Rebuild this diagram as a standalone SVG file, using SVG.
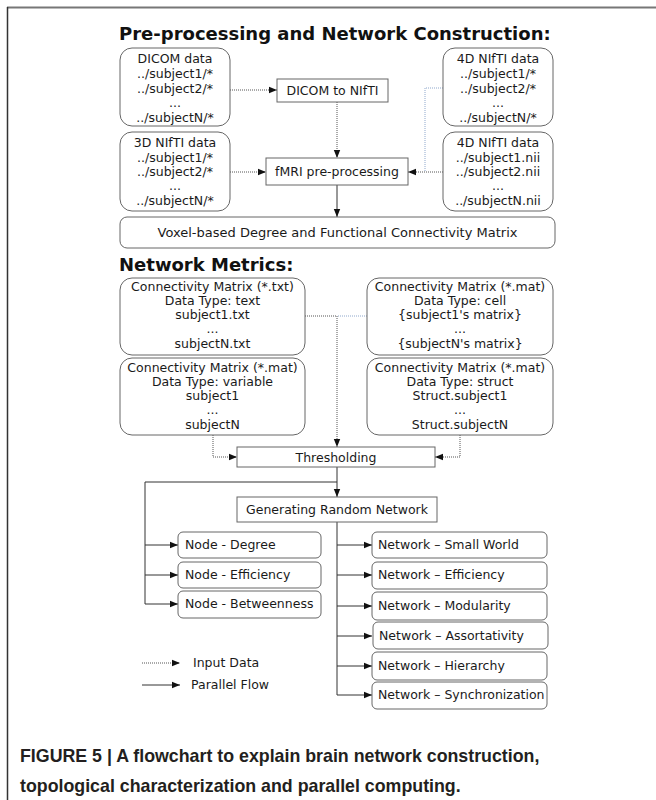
<svg xmlns="http://www.w3.org/2000/svg" width="656" height="800" viewBox="0 0 656 800">
<defs>
<marker id="ah" viewBox="0 0 10 10" refX="10" refY="5" markerWidth="8" markerHeight="8" markerUnits="userSpaceOnUse" orient="auto"><path d="M0,1 L10,5 L0,9 z" fill="#111"/></marker>
<style>
.t{font-family:"DejaVu Sans",sans-serif;font-size:12.5px;fill:#1a1a1a;text-anchor:middle}
.l{font-family:"DejaVu Sans",sans-serif;font-size:12.5px;fill:#1a1a1a}
.h{font-family:"DejaVu Sans",sans-serif;font-weight:bold;font-size:18px;fill:#111}
.cap{font-family:"Liberation Sans",Arial,sans-serif;font-weight:bold;font-size:17.8px;fill:#231f20}
.rb{fill:#fff;stroke:#666;stroke-width:1}
.dot{fill:none;stroke:#555;stroke-width:1;stroke-dasharray:1 1}
.blue{fill:none;stroke:#8fa8cc;stroke-width:1;stroke-dasharray:1 1}
.sol{fill:none;stroke:#333;stroke-width:1}
</style>
</defs>
<rect width="656" height="800" fill="#fff"/>
<line x1="7" y1="7.5" x2="656" y2="7.5" stroke="#777" stroke-width="2"/>
<line x1="7.5" y1="7" x2="7.5" y2="800" stroke="#333" stroke-width="1.5"/>

<text class="h" x="119" y="40">Pre-processing and Network Construction:</text>
<text class="h" x="119" y="271">Network Metrics:</text>

<g id="connectors">
<path class="dot" d="M230,90 H277" marker-end="url(#ah)"/>
<path class="dot" d="M337,102 V158" marker-end="url(#ah)"/>
<path class="dot" d="M230,172 H266" marker-end="url(#ah)"/>
<path class="blue" d="M443,88 H425 V172"/>
<path class="dot" d="M443,172 H408" marker-end="url(#ah)"/>
<path class="sol" d="M337,185 V217" marker-end="url(#ah)"/>
<path class="dot" d="M305,316 H337"/>
<path class="blue" d="M367,316 H337"/>
<path class="dot" d="M337,316 V447" marker-end="url(#ah)"/>
<path class="dot" d="M213,435 V457 H237" marker-end="url(#ah)"/>
<path class="dot" d="M460,435 V457 H435" marker-end="url(#ah)"/>
<path class="sol" d="M337,467 V497" marker-end="url(#ah)"/>
<path class="sol" d="M337,482 H145 V604 H178" marker-end="url(#ah)"/>
<path class="sol" d="M145,545 H178" marker-end="url(#ah)"/>
<path class="sol" d="M145,575 H178" marker-end="url(#ah)"/>
<path class="sol" d="M337,522 V695 H372" marker-end="url(#ah)"/>
<path class="sol" d="M337,545 H372" marker-end="url(#ah)"/>
<path class="sol" d="M337,575 H372" marker-end="url(#ah)"/>
<path class="sol" d="M337,606 H372" marker-end="url(#ah)"/>
<path class="sol" d="M337,636 H372" marker-end="url(#ah)"/>
<path class="sol" d="M337,666 H372" marker-end="url(#ah)"/>
<path class="dot" d="M142,663 H180" marker-end="url(#ah)"/>
<path class="sol" d="M142,685 H180" marker-end="url(#ah)"/>
</g>

<g id="dicom">
<rect class="rb" x="120" y="48" width="110" height="78" rx="12"/>
<text class="t" x="175" y="63">DICOM data</text>
<text class="t" x="175" y="78">../subject1/*</text>
<text class="t" x="175" y="93">../subject2/*</text>
<text class="t" x="175" y="107">...</text>
<text class="t" x="175" y="122">../subjectN/*</text>
</g>
<g id="nifti4d">
<rect class="rb" x="443" y="48" width="110" height="78" rx="12"/>
<text class="t" x="498" y="63">4D NIfTI data</text>
<text class="t" x="498" y="78">../subject1/*</text>
<text class="t" x="498" y="93">../subject2/*</text>
<text class="t" x="498" y="107">...</text>
<text class="t" x="498" y="122">../subjectN/*</text>
</g>
<g id="dicom2nifti">
<rect class="rb" x="277" y="79" width="111" height="23"/>
<text class="t" x="332.5" y="95">DICOM to NIfTI</text>
</g>
<g id="nifti3d">
<rect class="rb" x="120" y="132" width="110" height="79" rx="12"/>
<text class="t" x="175" y="147">3D NIfTI data</text>
<text class="t" x="175" y="162">../subject1/*</text>
<text class="t" x="175" y="176">../subject2/*</text>
<text class="t" x="175" y="190">...</text>
<text class="t" x="175" y="205">../subjectN/*</text>
</g>
<g id="nifti4dnii">
<rect class="rb" x="443" y="132" width="110" height="79" rx="12"/>
<text class="t" x="498" y="147">4D NIfTI data</text>
<text class="t" x="498" y="162">../subject1.nii</text>
<text class="t" x="498" y="176">../subject2.nii</text>
<text class="t" x="498" y="190">...</text>
<text class="t" x="498" y="205">../subjectN.nii</text>
</g>
<g id="fmri">
<rect class="rb" x="266" y="158" width="142" height="27"/>
<text class="t" x="337" y="176">fMRI pre-processing</text>
</g>
<g id="voxel">
<rect class="rb" x="120" y="217" width="435" height="31" rx="7"/>
<text class="t" x="337.5" y="237" style="font-size:13px">Voxel-based Degree and Functional Connectivity Matrix</text>
</g>

<g id="cm-txt">
<rect class="rb" x="120" y="278" width="185" height="77" rx="12"/>
<text class="t" x="212.5" y="291">Connectivity Matrix (*.txt)</text>
<text class="t" x="212.5" y="305">Data Type: text</text>
<text class="t" x="212.5" y="319">subject1.txt</text>
<text class="t" x="212.5" y="333">...</text>
<text class="t" x="212.5" y="348">subjectN.txt</text>
</g>
<g id="cm-cell">
<rect class="rb" x="367" y="278" width="186" height="77" rx="12"/>
<text class="t" x="460" y="291">Connectivity Matrix (*.mat)</text>
<text class="t" x="460" y="305">Data Type: cell</text>
<text class="t" x="460" y="319">{subject1's matrix}</text>
<text class="t" x="460" y="333">...</text>
<text class="t" x="460" y="348">{subjectN's matrix}</text>
</g>
<g id="cm-var">
<rect class="rb" x="120" y="358" width="185" height="77" rx="12"/>
<text class="t" x="212.5" y="372">Connectivity Matrix (*.mat)</text>
<text class="t" x="212.5" y="386">Data Type: variable</text>
<text class="t" x="212.5" y="400">subject1</text>
<text class="t" x="212.5" y="414">...</text>
<text class="t" x="212.5" y="429">subjectN</text>
</g>
<g id="cm-struct">
<rect class="rb" x="367" y="358" width="186" height="77" rx="12"/>
<text class="t" x="460" y="372">Connectivity Matrix (*.mat)</text>
<text class="t" x="460" y="386">Data Type: struct</text>
<text class="t" x="460" y="400">Struct.subject1</text>
<text class="t" x="460" y="414">...</text>
<text class="t" x="460" y="429">Struct.subjectN</text>
</g>
<g id="threshold">
<rect class="rb" x="237" y="447" width="198" height="20"/>
<text class="t" x="336" y="461.5">Thresholding</text>
</g>
<g id="random">
<rect class="rb" x="237" y="497" width="200" height="25"/>
<text class="t" x="337" y="514">Generating Random Network</text>
</g>

<g id="node-degree"><rect class="rb" x="178" y="532" width="143" height="26" rx="5"/><text class="l" x="185" y="549">Node - Degree</text></g>
<g id="node-eff"><rect class="rb" x="178" y="562" width="143" height="26" rx="5"/><text class="l" x="185" y="579">Node - Efficiency</text></g>
<g id="node-betw"><rect class="rb" x="178" y="591" width="143" height="27" rx="5"/><text class="l" x="185" y="608">Node - Betweenness</text></g>

<g id="net-sw"><rect class="rb" x="372" y="532" width="175" height="26" rx="5"/><text class="l" x="378" y="549">Network – Small World</text></g>
<g id="net-eff"><rect class="rb" x="372" y="562" width="175" height="27" rx="5"/><text class="l" x="378" y="579">Network – Efficiency</text></g>
<g id="net-mod"><rect class="rb" x="372" y="592" width="175" height="28" rx="5"/><text class="l" x="378" y="610">Network – Modularity</text></g>
<g id="net-ass"><rect class="rb" x="373" y="622" width="175" height="27" rx="5"/><text class="l" x="379" y="640">Network – Assortativity</text></g>
<g id="net-hier"><rect class="rb" x="372" y="652" width="175" height="28" rx="5"/><text class="l" x="378" y="670">Network – Hierarchy</text></g>
<g id="net-sync"><rect class="rb" x="372" y="682" width="175" height="27" rx="5"/><text class="l" x="378" y="699">Network – Synchronization</text></g>

<g id="legend">
<text class="l" x="193" y="667">Input Data</text>
<text class="l" x="191" y="689">Parallel Flow</text>
</g>

<text class="cap" x="20" y="762">FIGURE 5 | A flowchart to explain brain network construction,</text>
<text class="cap" x="20" y="792">topological characterization and parallel computing.</text>
</svg>
